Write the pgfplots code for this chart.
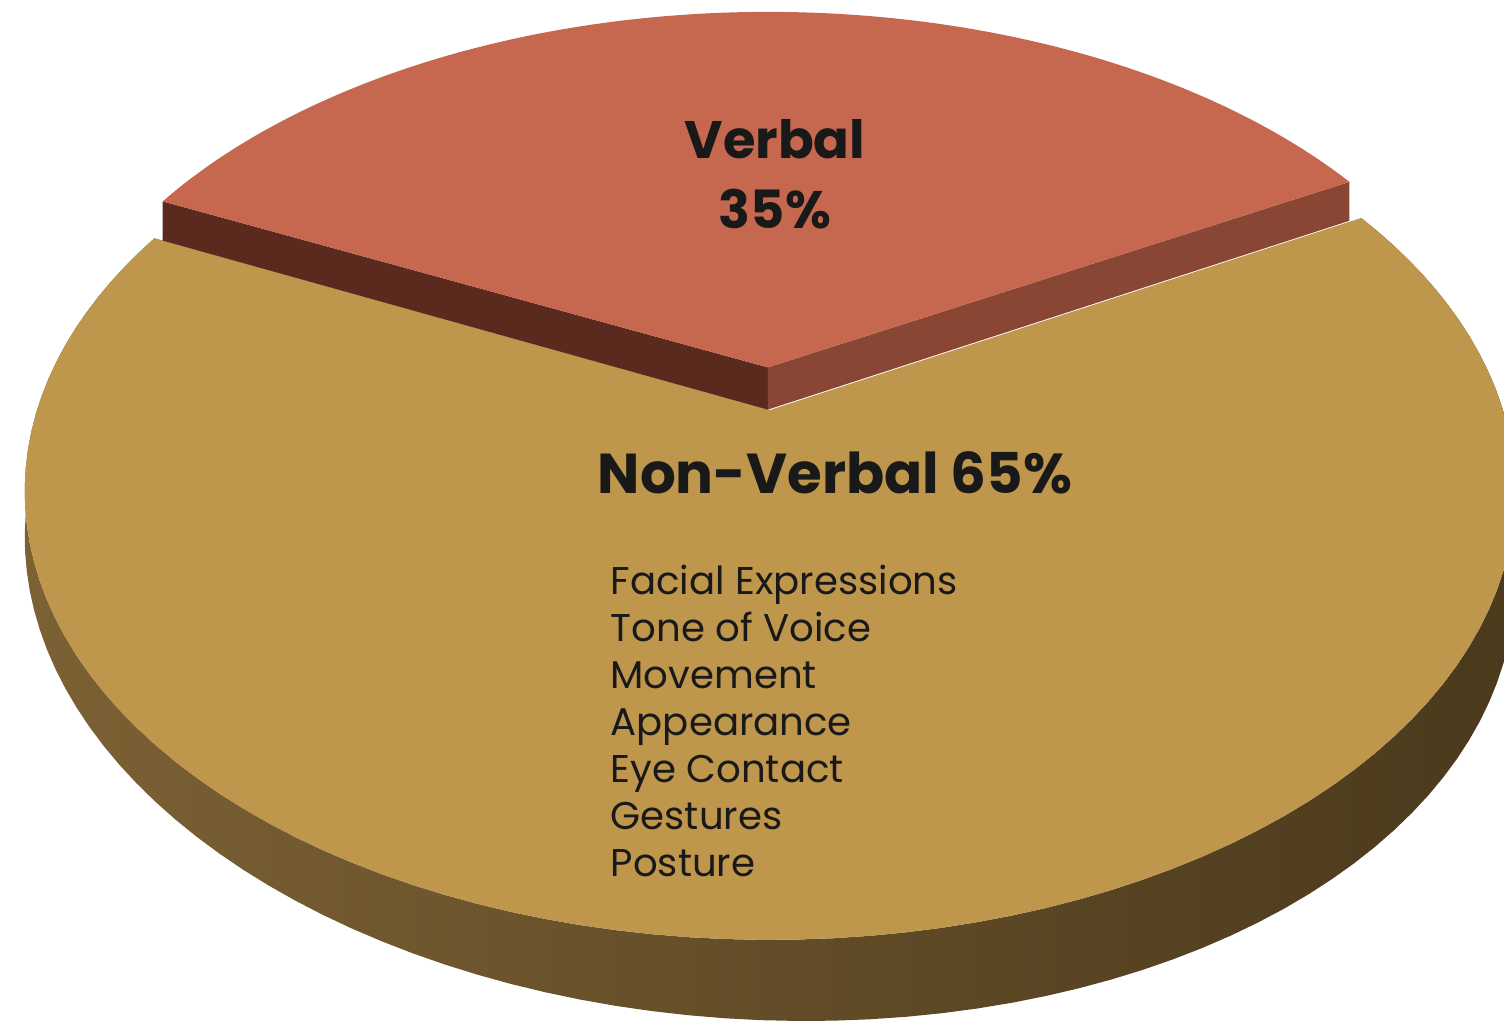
\documentclass[border=0pt]{standalone}
\usepackage{pgfplots}
\usepackage{pgfplotstable}
\pgfplotsset{compat=1.18}
\usepackage{fontspec}
\setmainfont{Poppins}
\definecolor{verbtop}{RGB}{198,104,80}
\definecolor{verbdark}{RGB}{90,42,30}
\definecolor{verbmid}{RGB}{138,70,52}
\definecolor{nvtop}{RGB}{190,150,76}
\definecolor{wallL}{RGB}{124,97,52}
\definecolor{wallR}{RGB}{74,57,28}
\pgfplotstableread{
label share
Verbal 35
NonVerbal 65
}\piedata
\begin{document}%
\begin{tikzpicture}
\pgfplotstablegetelem{0}{share}\of\piedata
\pgfmathsetmacro\vshare{\pgfplotsretval}
\pgfmathsetmacro\sA{28.75}
\pgfmathsetmacro\sB{\sA+3.6*\vshare}
\pgfmathsetmacro\sC{\sA+360}
\pgfmathsetmacro\smid{(\sA+\sB)/2}
\pgfmathsetmacro\ex{0.1*cos(\smid)}
\pgfmathsetmacro\ey{0.1*sin(\smid)}
\begin{axis}[scale only axis, width=15.04cm, height=10.28cm,
  xmin=0, xmax=1504, ymin=0, ymax=1028, hide axis,
  declare function={
    PX(\u,\v)=770+733*\u/(1+0.181*\v);
    PY(\u,\v)=618+434*\v/(1+0.181*\v);
    DZ(\v)=1/(1+0.181*\v);
    WR(\t)=(\t<0) ? (1+\t) : ((\t>1) ? (2-\t) : 1);
    WT(\t,\a,\b)=(\t<0) ? \a : ((\t>1) ? \b : (\a+\t*(\b-\a)));
    LA(\t,\a,\b)=(\t<=1) ? (\a+\t*(\b-\a)) : ((\t<=2) ? \b : (\b-(\t-2)*(\b-\a)));
    LD(\t)=(\t<=1) ? 0 : ((\t<=2) ? (\t-1) : 1);
    SR(\t)=(\t<=1) ? \t : ((\t<=2) ? 1 : (3-\t));
  }]
% Non-verbal outer wall
\addplot[draw=none, left color=wallL, right color=wallR, domain=0:3, samples=301, variable=\t]
  ({PX(cos(LA(t,\sB,\sC)), sin(LA(t,\sB,\sC)))},
   {PY(cos(LA(t,\sB,\sC)), sin(LA(t,\sB,\sC))) - (66+22*cos(LA(t,\sB,\sC)))*LD(t)*DZ(sin(LA(t,\sB,\sC)))});
% Non-verbal top face
\addplot[draw=none, fill=nvtop, domain=-1:2, samples=301, variable=\t]
  ({PX(WR(t)*cos(WT(t,\sB,\sC)), WR(t)*sin(WT(t,\sB,\sC)))},
   {PY(WR(t)*cos(WT(t,\sB,\sC)), WR(t)*sin(WT(t,\sB,\sC)))});
% Verbal cut face at end angle (front-left, dark)
\addplot[draw=none, fill=verbdark, domain=0:3, samples=4, variable=\t]
  ({PX(\ex+SR(t)*cos(\sB), \ey+SR(t)*sin(\sB))},
   {PY(\ex+SR(t)*cos(\sB), \ey+SR(t)*sin(\sB)) - 43*LD(t)*DZ(\ey+SR(t)*sin(\sB))});
% Verbal cut face at start angle (front-right)
\addplot[draw=none, fill=verbmid, domain=0:3, samples=4, variable=\t]
  ({PX(\ex+SR(t)*cos(\sA), \ey+SR(t)*sin(\sA))},
   {PY(\ex+SR(t)*cos(\sA), \ey+SR(t)*sin(\sA)) - 43*LD(t)*DZ(\ey+SR(t)*sin(\sA))});
% Verbal top face
\addplot[draw=none, fill=verbtop, domain=-1:2, samples=301, variable=\t]
  ({PX(\ex+WR(t)*cos(WT(t,\sA,\sB)), \ey+WR(t)*sin(WT(t,\sA,\sB)))},
   {PY(\ex+WR(t)*cos(WT(t,\sA,\sB)), \ey+WR(t)*sin(WT(t,\sA,\sB)))});
% Labels
\node[font=\fontsize{15}{20}\selectfont\bfseries, align=center, text=black!90]
  at (axis cs:775,854) {Verbal\\35\%};
\node[font=\fontsize{16}{19}\selectfont\bfseries, anchor=west, text=black!90, inner sep=0pt]
  at (axis cs:597,555) {Non-Verbal 65\%};
\node[font=\fontsize{11}{13.4}\selectfont, anchor=north west, align=left, text=black!90, inner sep=0pt]
  at (axis cs:610,464) {Facial Expressions\\Tone of Voice\\Movement\\Appearance\\Eye Contact\\Gestures\\Posture};
\end{axis}
\pgfresetboundingbox
\path[use as bounding box] (current axis.south west) rectangle (current axis.north east);
\end{tikzpicture}%
\end{document}
